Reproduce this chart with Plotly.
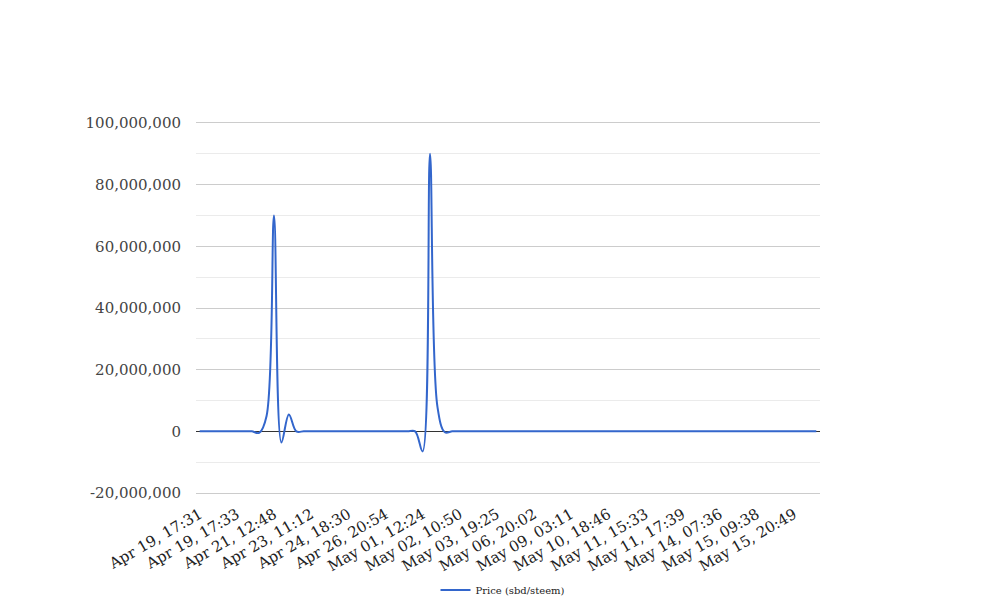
import plotly.graph_objects as go

# Price values (sbd/steem), one per timestamp category (84 categories)
price = [
    0, 0, 0, 0, 0, 0, 0, 0, -500000, 5000000,
    70000000, -3600000, 5500000, 0, 0, 0, 0, 0, 0, 0,
    0, 0, 0, 0, 0, 0, 0, 0, 0, 0,
    -6500000, 90000000, 8000000, -300000, 0, 0, 0, 0, 0, 0,
    0, 0, 0, 0, 0, 0, 0, 0, 0, 0,
    0, 0, 0, 0, 0, 0, 0, 0, 0, 0,
    0, 0, 0, 0, 0, 0, 0, 0, 0, 0,
    0, 0, 0, 0, 0, 0, 0, 0, 0, 0,
    0, 0, 0, 0,
]

# Visible category labels (every 5th category)
tick_labels = [
    "Apr 19, 17:31", "Apr 19, 17:33", "Apr 21, 12:48", "Apr 23, 11:12",
    "Apr 24, 18:30", "Apr 26, 20:54", "May 01, 12:24", "May 02, 10:50",
    "May 03, 19:25", "May 06, 20:02", "May 09, 03:11", "May 10, 18:46",
    "May 11, 15:33", "May 11, 17:39", "May 14, 07:36", "May 15, 09:38",
    "May 15, 20:49",
]
label_step = 5

y_ticks = [-20000000, 0, 20000000, 40000000, 60000000, 80000000, 100000000]

n = len(price)
x_idx = list(range(n))
tick_idx = list(range(0, n, label_step))[: len(tick_labels)]

FONT = "DejaVu Serif"

fig = go.Figure()
fig.add_trace(go.Scatter(
    x=x_idx, y=price, mode="lines", name="Price (sbd/steem)",
    line=dict(color="#3366cc", width=2, shape="spline", smoothing=1.0),
    hoverinfo="skip",
))

fig.update_layout(
    width=992, height=600,
    margin=dict(l=188, r=180, t=115, b=115),
    paper_bgcolor="white", plot_bgcolor="white",
    font=dict(family=FONT, color="#444444", size=15),
    showlegend=True,
    legend=dict(orientation="h", x=0.5 - 5 / 624, xanchor="center",
                yref="container", y=0.03, yanchor="middle",
                font=dict(family=FONT, size=10, color="#222222"),
                bgcolor="rgba(0,0,0,0)"),
    xaxis=dict(
        range=[-0.5, n - 0.5], automargin=False,
        tickmode="array", tickvals=tick_idx, ticktext=tick_labels,
        tickangle=-30, showgrid=False, zeroline=False,
        showline=True, mirror=True, linecolor="#cccccc", linewidth=1,
        ticks="", ticklabelstandoff=6,
        tickfont=dict(family=FONT, size=15, color="#222222"),
    ),
    yaxis=dict(
        range=[y_ticks[0], y_ticks[-1]], automargin=False,
        tickmode="array", tickvals=y_ticks, ticktext=[f"{v:,}" for v in y_ticks],
        showgrid=True, gridcolor="#cccccc", gridwidth=1,
        zeroline=True, zerolinecolor="#333333", zerolinewidth=1,
        showline=False, ticks="", ticklabelstandoff=14,
        tickfont=dict(family=FONT, size=15, color="#444444"),
        minor=dict(tickmode="linear", tick0=0, dtick=10000000, showgrid=True,
                   gridcolor="#ebebeb", gridwidth=1),
    ),
)

fig.write_html("out.html")
